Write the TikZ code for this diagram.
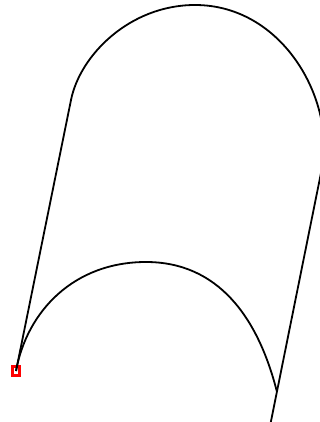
\documentclass[tikz,border=0pt]{standalone}
\begin{document}
\begin{tikzpicture}[x=1pt,y=-1pt,
  curve/.style={line width=1.8pt, black},
  marker/.style={draw=red, line width=3pt, minimum width=7pt, minimum height=9pt, inner sep=0pt}]
\useasboundingbox (0,0) rectangle (320,422);
\clip (0,0) rectangle (320,422);
\coordinate (L) at (71,100);
\coordinate (T) at (195,5);
\coordinate (R) at (322,168);
\coordinate (E) at (268,436);
\coordinate (M) at (146,262);
\coordinate (Q) at (277,392);
\node[marker] (S) at (16,371) {};
\draw[curve] (S.center) -- (L) .. controls (80,55) and (130,5) .. (T)
  .. controls (283,5) and (335,100) .. (R) -- (E);
\draw[curve] (S.center) .. controls (27,311) and (74,262) .. (M)
  .. controls (218,262) and (258,317) .. (Q);
\end{tikzpicture}
\end{document}
